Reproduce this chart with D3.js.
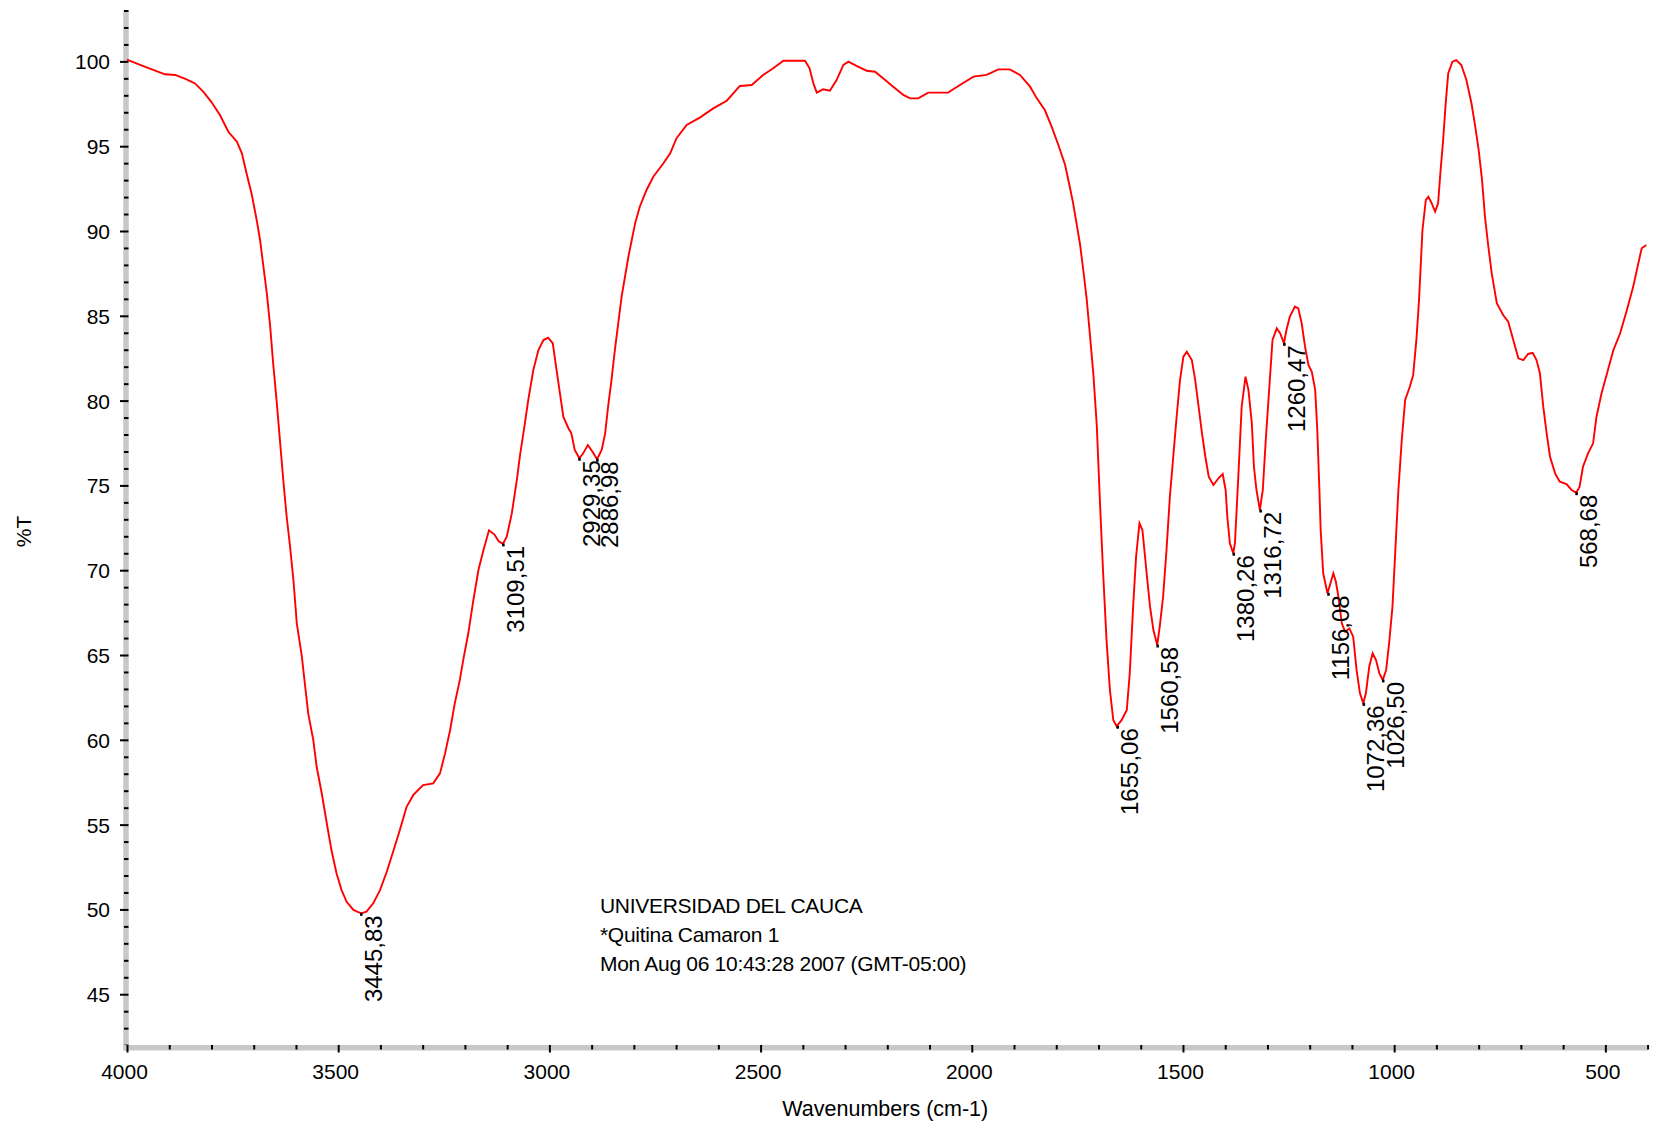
<!DOCTYPE html>
<html>
<head>
<meta charset="utf-8">
<script src="https://cdn.jsdelivr.net/npm/d3@7"></script>
<style>
  html, body { margin: 0; padding: 0; background: #ffffff; }
  svg { display: block; }
  text { font-family: "Liberation Sans", Arial, Helvetica, sans-serif; fill: #000; }
</style>
</head>
<body>
<svg id="chart" width="1658" height="1127"></svg>
<script>
// ---- data ----
const wavenumbers = [
  4000,3969,3938,3910,3886,3859,3839,3819,3800,3780,3760,3740,3728,3717,3705,3693,3685,3677,3669,3661,
  3654,3646,3638,3630,3622,3614,3606,3598,3586,3579,3571,3559,3551,3539,3527,3516,3504,3492,3480,3464,
  3446,3433,3417,3401,3385,3370,3354,3338,3322,3299,3275,3259,3247,3235,3224,3212,3204,3192,3180,3168,
  3156,3143,3130,3120,3110,3101,3089,3077,3070,3058,3050,3038,3026,3014,3003,2992,2983,2975,2967,2955,
  2948,2940,2929,2920,2909,2898,2887,2876,2868,2861,2853,2845,2837,2829,2821,2813,2805,2797,2786,2770,
  2754,2730,2714,2699,2675,2643,2612,2580,2549,2521,2494,2470,2446,2415,2395,2384,2375,2367,2352,2336,
  2320,2304,2292,2273,2249,2229,2210,2186,2162,2146,2127,2103,2056,2028,1996,1965,1937,1910,1886,1862,
  1846,1827,1811,1795,1779,1768,1760,1752,1744,1736,1728,1720,1712,1704,1696,1689,1681,1673,1665,1657,
  1645,1633,1626,1618,1611,1603,1596,1586,1578,1570,1561,1555,1547,1539,1531,1523,1515,1507,1499,1491,
  1479,1471,1463,1455,1447,1439,1428,1416,1406,1399,1395,1389,1381,1377,1369,1361,1352,1345,1337,1332,
  1326,1318,1311,1304,1296,1288,1278,1270,1261,1255,1247,1235,1227,1219,1211,1203,1195,1187,1182,1177,
  1174,1168,1158,1152,1144,1138,1132,1124,1116,1106,1097,1089,1081,1073,1067,1059,1051,1043,1035,1027,
  1019,1012,1004,998,990,982,974,963,955,947,941,933,925,919,911,903,896,890,884,878,
  872,862,853,841,829,817,808,800,792,785,777,769,757,742,730,718,706,694,683,672,
  663,655,647,639,631,619,608,592,580,569,561,553,541,529,521,509,496,481,465,449,
  434,422,414,403
];
const transmittance = [
  100.1,99.8,99.5,99.24,99.2,98.94,98.7,98.2,97.6,96.84,95.85,95.27,94.58,93.4,92.2,90.65,89.47,87.9,86.33,84.36,
  82.2,80.04,77.68,75.32,73.15,71.4,69.42,66.87,64.9,63.33,61.56,59.99,58.41,56.85,55.08,53.5,52.13,51.14,50.45,49.97,
  49.77,49.87,50.36,51.14,52.22,53.4,54.68,56.05,56.75,57.33,57.43,58.02,59.2,60.58,62.15,63.53,64.7,66.28,68.24,70.01,
  71.19,72.35,72.1,71.7,71.55,71.97,73.35,75.32,76.7,78.66,80.04,81.8,82.98,83.57,83.71,83.38,81.8,80.43,79.05,78.37,
  78.07,77.09,76.6,76.89,77.38,76.99,76.54,77.1,78.07,79.64,81.21,82.98,84.56,86.13,87.3,88.48,89.47,90.45,91.43,92.42,
  93.2,93.99,94.58,95.47,96.25,96.7,97.23,97.68,98.55,98.61,99.2,99.59,100.04,100.04,100.04,99.59,98.7,98.16,98.35,98.27,
  98.9,99.79,99.98,99.73,99.45,99.39,99.0,98.51,98.02,97.82,97.82,98.16,98.16,98.61,99.1,99.2,99.53,99.53,99.2,98.51,
  97.82,97.13,96.15,95.07,93.89,92.61,91.63,90.45,89.27,87.7,86.0,83.8,81.5,78.5,73.7,69.82,65.89,62.94,61.17,60.8,
  61.17,61.76,63.92,67.85,70.8,72.77,72.37,69.82,67.85,66.47,65.59,66.67,68.44,71.19,74.33,76.69,79.05,81.21,82.59,82.88,
  82.39,81.21,79.64,78.07,76.69,75.51,75.02,75.42,75.67,74.73,73.15,71.58,71.0,71.58,75.51,79.64,81.41,80.63,78.66,76.1,
  74.73,73.55,74.73,77.68,80.63,83.57,84.26,83.97,83.38,84.16,84.95,85.54,85.44,84.56,83.18,82.1,81.7,80.63,78.27,74.73,
  72.37,69.82,68.64,69.13,69.82,69.32,68.44,66.87,66.37,66.57,66.08,64.12,62.74,62.15,62.74,64.31,65.1,64.7,63.92,63.53,
  64.12,65.69,67.85,70.8,74.73,77.68,80.04,80.82,81.5,83.7,86.0,90.06,91.83,92.02,91.63,91.14,91.63,93.6,95.37,97.53,
  99.3,99.98,100.08,99.79,98.9,97.53,96.15,94.78,93.01,90.84,89.07,87.5,85.74,85.05,84.65,83.57,82.49,82.39,82.75,82.82,
  82.39,81.61,79.64,78.07,76.69,75.71,75.22,75.08,74.73,74.57,74.92,76.1,76.89,77.48,79.05,80.43,81.61,82.98,83.97,85.34,
  86.72,88.09,88.98,89.17
];

const peakWavenumbers = [3445.83, 3109.51, 2929.35, 2886.98, 1655.06, 1560.58, 1380.26, 1316.72, 1260.47, 1156.08, 1072.36, 1026.50, 568.68];
const peakTransmittance = [49.77, 71.55, 76.6, 76.54, 60.8, 65.59, 71.0, 73.55, 83.38, 68.64, 62.15, 63.53, 74.57];
const peakLabels = ["3445,83", "3109,51", "2929,35", "2886,98", "1655,06", "1560,58", "1380,26", "1316,72", "1260,47", "1156,08", "1072,36", "1026,50", "568,68"];

const xMajorTicks = [4000, 3500, 3000, 2500, 2000, 1500, 1000, 500];
const xMinorTicks = d3.range(4000, 399, -100);
const yMajorTicks = [45, 50, 55, 60, 65, 70, 75, 80, 85, 90, 95, 100];
const yMinorTicks = d3.range(42, 104, 1);

const infoLines = ["UNIVERSIDAD DEL CAUCA", "*Quitina Camaron 1", "Mon Aug 06 10:43:28 2007 (GMT-05:00)"];
const xTitle = "Wavenumbers (cm-1)";
const yTitle = "%T";

// ---- drawing ----
const svg = d3.select("#chart");
svg.append("rect").attr("width", 1658).attr("height", 1127).attr("fill", "#ffffff");

const x = d3.scaleLinear().domain([4000, 400]).range([127, 1647.6]);
const y = d3.scaleLinear().domain([41.8, 103]).range([1048.5, 10.5]);

const bandColor = "#c8c8c8";

// Y axis
const yAxisX = 128.5;
const yG = svg.append("g").attr("transform", `translate(${yAxisX},0)`);
yG.append("line")
  .attr("x1", -2.5).attr("x2", -2.5)
  .attr("y1", y(103)).attr("y2", 1050.5)
  .attr("stroke", bandColor).attr("stroke-width", 5.5);
const yMinor = yG.append("g").call(
  d3.axisLeft(y).tickValues(yMinorTicks.filter(v => !yMajorTicks.includes(v))).tickSize(4.5).tickFormat(""));
const yMajor = yG.append("g").call(
  d3.axisLeft(y).tickValues(yMajorTicks).tickSize(8.5).tickPadding(10).tickFormat(d3.format("d")));
[yMinor, yMajor].forEach(g => {
  g.select(".domain").remove();
  g.selectAll(".tick line").attr("stroke", "#000").attr("stroke-width", 2);
});
yMajor.selectAll(".tick text")
  .attr("font-size", 21).attr("font-family", "Liberation Sans, Arial, sans-serif")
  .attr("fill", "#000").attr("dy", "0.36em");

// X axis
const xAxisY = 1045;
const xG = svg.append("g").attr("transform", `translate(0,${xAxisY})`);
xG.append("line")
  .attr("x1", 123.5).attr("x2", 1648)
  .attr("y1", 2.7).attr("y2", 2.7)
  .attr("stroke", bandColor).attr("stroke-width", 5.5);
const xMinor = xG.append("g").call(
  d3.axisBottom(x).tickValues(xMinorTicks.filter(v => !xMajorTicks.includes(v))).tickSize(4.5).tickFormat(""));
const xMajor = xG.append("g").call(
  d3.axisBottom(x).tickValues(xMajorTicks).tickSize(7.5).tickPadding(10).tickFormat(d3.format("d")));
[xMinor, xMajor].forEach(g => {
  g.select(".domain").remove();
  g.selectAll(".tick line").attr("stroke", "#000").attr("stroke-width", 2);
});
xMajor.selectAll(".tick text")
  .attr("font-size", 21).attr("font-family", "Liberation Sans, Arial, sans-serif")
  .attr("fill", "#000").attr("y", 34).attr("dy", 0).attr("dx", -3);

// Axis titles
svg.append("text")
  .attr("x", x(4000) + (x(400) - x(4000)) / 2 - 2).attr("y", 1116)
  .attr("text-anchor", "middle").attr("font-size", 21.5)
  .text(xTitle);
svg.append("text")
  .attr("transform", `translate(31,${y((103 + 41.8) / 2) + 2}) rotate(-90)`)
  .attr("text-anchor", "middle").attr("font-size", 21)
  .text(yTitle);

// Spectrum
const line = d3.line()
  .x(i => x(wavenumbers[i]))
  .y(i => y(transmittance[i]));
svg.append("path")
  .attr("d", line(d3.range(wavenumbers.length)))
  .attr("fill", "none")
  .attr("stroke", "#ff0000")
  .attr("stroke-width", 1.9)
  .attr("stroke-linejoin", "miter");

// Peak markers and labels
const peaks = svg.append("g");
peakWavenumbers.forEach((wn, i) => {
  const px = x(wn), py = y(peakTransmittance[i]);
  peaks.append("rect")
    .attr("x", px - 1).attr("y", py - 0.5).attr("width", 2.5).attr("height", 3)
    .attr("fill", "#000");
  peaks.append("text")
    .attr("transform", `translate(${px},${py + 2}) rotate(-90)`)
    .attr("text-anchor", "end")
    .attr("dy", "0.86em")
    .attr("font-size", 24)
    .text(peakLabels[i]);
});

// Info block
const info = svg.append("g");
infoLines.forEach((t, i) => {
  info.append("text")
    .attr("x", 600).attr("y", 913 + i * 29)
    .attr("font-size", 21)
    .attr("letter-spacing", "-0.3px")
    .text(t);
});
</script>
</body>
</html>
